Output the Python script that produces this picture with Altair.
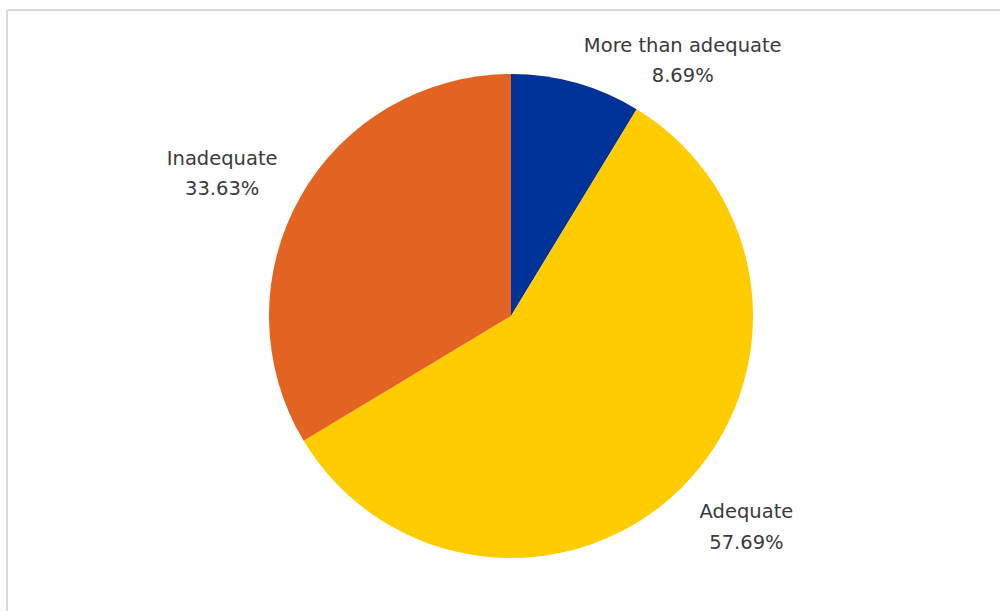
import altair as alt
import pandas as pd

categories = ["More than adequate", "Adequate", "Inadequate"]
values = [8.69, 57.69, 33.63]
colors = ["#003399", "#FFCC00", "#E26322"]

# label nudges (Excel "best fit" placement), in pixels
label_dx = [86, 11, -12]
label_dy = [36, -29, -1]

df = pd.DataFrame({
    "category": categories,
    "value": values,
    "order": list(range(len(categories))),
})
df["label"] = [f"{c}\n{v:.2f}%" for c, v in zip(categories, values)]
total = float(sum(values))

W, H = 993, 601
CX, CY = 504, 306

theta_scale = alt.Scale(domain=[0, total])

frame_left = alt.Chart(df).mark_rule(stroke="#d9d9d9", strokeWidth=2).encode(
    x=alt.value(0), y=alt.value(0), y2=alt.value(H)
).transform_filter(alt.datum.order == 0)
frame_top = alt.Chart(df).mark_rule(stroke="#d9d9d9", strokeWidth=2).encode(
    x=alt.value(0), x2=alt.value(W), y=alt.value(0)
).transform_filter(alt.datum.order == 0)

pie = alt.Chart(df).mark_arc(radius=242).encode(
    theta=alt.Theta("value:Q", stack=True, scale=theta_scale),
    order=alt.Order("order:Q"),
    color=alt.Color("category:N",
                    scale=alt.Scale(domain=categories, range=colors),
                    legend=None),
    x=alt.value(CX), y=alt.value(CY),
)

font = "DejaVu Sans"
layers = [frame_left, frame_top, pie]
for i, cat in enumerate(categories):
    t = alt.Chart(df).transform_window(
        cum="sum(value)", sort=[alt.SortField("order")]
    ).transform_calculate(
        mid="datum.cum - datum.value / 2"
    ).transform_filter(
        alt.datum.category == cat
    ).mark_text(
        radius=318, lineBreak="\n", fontSize=19.5, font=font,
        color="#3a3a3a", lineHeight=30.5, dx=label_dx[i], dy=label_dy[i]
    ).encode(
        theta=alt.Theta("mid:Q", stack=None, scale=theta_scale),
        text="label:N",
        x=alt.value(CX), y=alt.value(CY),
    )
    layers.append(t)

chart = alt.layer(*layers).properties(
    width=W, height=H,
    padding={"left": 7, "top": 10, "right": 0, "bottom": 0},
    autosize=alt.AutoSizeParams(type="none"),
).configure_view(
    stroke=None
).configure(background="white")

chart.save("out.html", embed_options={"renderer": "svg", "actions": False})
